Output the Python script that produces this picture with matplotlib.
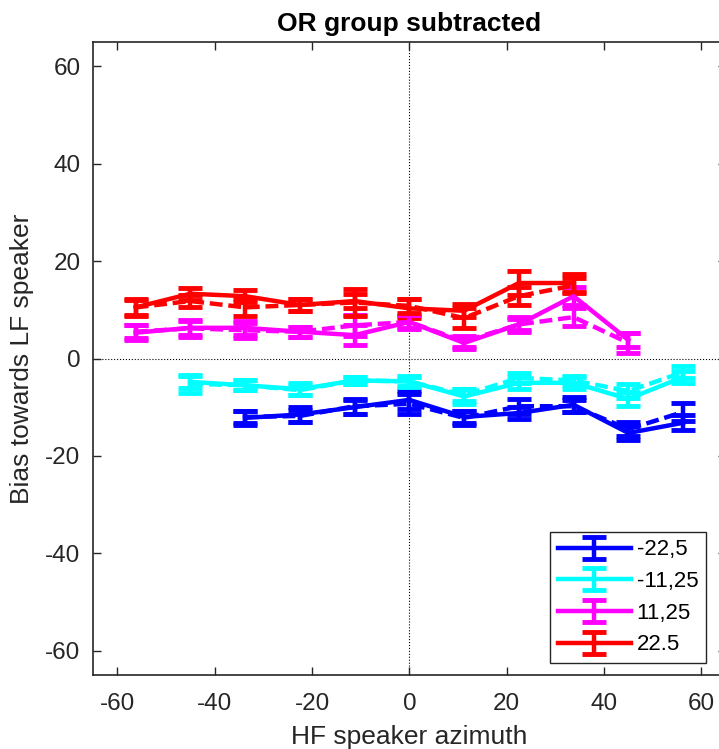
import matplotlib
matplotlib.use("Agg")
import matplotlib.pyplot as plt

plt.rcParams['font.family'] = ['Liberation Sans', 'DejaVu Sans']
plt.rcParams['axes.unicode_minus'] = False

# HF speaker azimuths (deg)
azimuths = [-56.25, -45, -33.75, -22.5, -11.25, 0, 11.25, 22.5, 33.75, 45, 56.25]

# LF offset conditions, legend labels
labels = ["-22,5", "-11,25", "11,25", "22.5"]
colors = ["#0000ff", "#00ffff", "#ff00ff", "#ff0000"]

# index range of azimuths used by each condition
x_blue = azimuths[2:11]
x_cyan = azimuths[1:11]
x_mag = azimuths[0:10]
x_red = azimuths[0:9]

# solid = first session, dashed = second session
blue_solid = [-12.2, -11.5, -10.0, -8.5, -12.0, -11.2, -9.5, -15.3, -13.2]
blue_solid_err = [1.5, 1.5, 1.5, 1.8, 1.2, 1.2, 1.5, 1.5, 1.5]
blue_dash = [-12.0, -11.8, -9.8, -9.3, -12.2, -9.8, -9.8, -14.5, -11.0]
blue_dash_err = [1.3, 1.3, 1.5, 2.0, 1.5, 1.5, 1.2, 1.5, 1.8]

cyan_solid = [-4.8, -5.5, -6.3, -4.5, -4.7, -7.8, -5.0, -5.0, -8.3, -3.8]
cyan_solid_err = [1.2, 1.0, 1.2, 0.8, 1.0, 1.5, 1.2, 1.2, 1.5, 1.2]
cyan_dash = [-5.2, -5.5, -6.5, -4.5, -4.7, -7.5, -4.0, -4.5, -6.7, -2.8]
cyan_dash_err = [1.8, 1.0, 1.0, 0.8, 1.2, 1.2, 1.0, 1.0, 1.5, 1.2]

mag_solid = [5.3, 6.3, 6.3, 5.5, 4.8, 7.5, 3.2, 7.0, 12.8, 3.8]
mag_solid_err = [1.5, 1.5, 1.5, 1.0, 2.0, 1.2, 1.2, 1.5, 1.8, 1.5]
mag_dash = [5.5, 6.2, 5.8, 5.5, 6.8, 7.5, 3.5, 7.0, 8.5, 3.2]
mag_dash_err = [1.3, 1.8, 1.5, 1.0, 2.2, 1.5, 1.2, 1.2, 1.8, 2.0]

red_solid = [10.5, 13.3, 12.8, 11.0, 11.8, 10.3, 9.8, 15.5, 15.5]
red_solid_err = [1.8, 1.2, 1.2, 1.3, 1.5, 2.0, 1.3, 2.5, 1.8]
red_dash = [10.5, 11.8, 10.5, 11.0, 11.5, 10.8, 8.3, 12.8, 15.0]
red_dash_err = [1.5, 1.3, 1.8, 1.2, 2.8, 1.5, 2.0, 1.8, 1.5]

xs = [x_blue, x_cyan, x_mag, x_red]
solids = [(blue_solid, blue_solid_err), (cyan_solid, cyan_solid_err),
          (mag_solid, mag_solid_err), (red_solid, red_solid_err)]
dashes = [(blue_dash, blue_dash_err), (cyan_dash, cyan_dash_err),
          (mag_dash, mag_dash_err), (red_dash, red_dash_err)]

fig = plt.figure(figsize=(7.19, 7.49), dpi=100)
ax = fig.add_axes([93/719, 1 - 675/749, 632.7/719, 633/749])

ax.axhline(0, color='black', linestyle=':', linewidth=0.8, zorder=1)
ax.axvline(0, color='black', linestyle=':', linewidth=0.8, zorder=1)

eb_kw = dict(linewidth=3.2, elinewidth=3.2, capsize=8.5, capthick=3.5)

handles = []
for x, (y, e), c, lab in zip(xs, solids, colors, labels):
    h = ax.errorbar(x, y, yerr=e, color=c, label=lab, **eb_kw)
    handles.append(h)

for x, (y, e), c in zip(xs, dashes, colors):
    h = ax.errorbar(x, y, yerr=e, color=c, **eb_kw)
    h[0].set_dashes((2.9, 1.3))

ax.set_xlim(-65, 65)
ax.set_ylim(-65, 65)
ax.set_xticks(range(-60, 61, 20))
ax.set_yticks(range(-60, 61, 20))

ax.tick_params(direction='in', length=6, width=1, top=True, right=True,
               labelsize=17.5, colors='#262626')
ax.tick_params(axis='x', pad=13)
ax.tick_params(axis='y', pad=9)
for sp in ax.spines.values():
    sp.set_color('#262626')
    sp.set_linewidth(1.2)

ax.set_xlabel("HF speaker azimuth", fontsize=19, color='#262626', labelpad=7)
ax.set_ylabel("Bias towards LF speaker", fontsize=19, color='#262626', labelpad=8)
ax.set_title("OR group subtracted", fontsize=19, fontweight='bold', pad=8)

leg = ax.legend(handles=handles, labels=labels, loc='upper right',
                bbox_to_anchor=(706/719, 1 - 531.7/749),
                bbox_transform=fig.transFigure, borderaxespad=0,
                fontsize=16, handlelength=3.3, handletextpad=0.25,
                labelspacing=0.48, borderpad=0.35, fancybox=False,
                framealpha=1, edgecolor='#262626')
leg.get_frame().set_linewidth(1)

fig.savefig("out.png", dpi=100)
